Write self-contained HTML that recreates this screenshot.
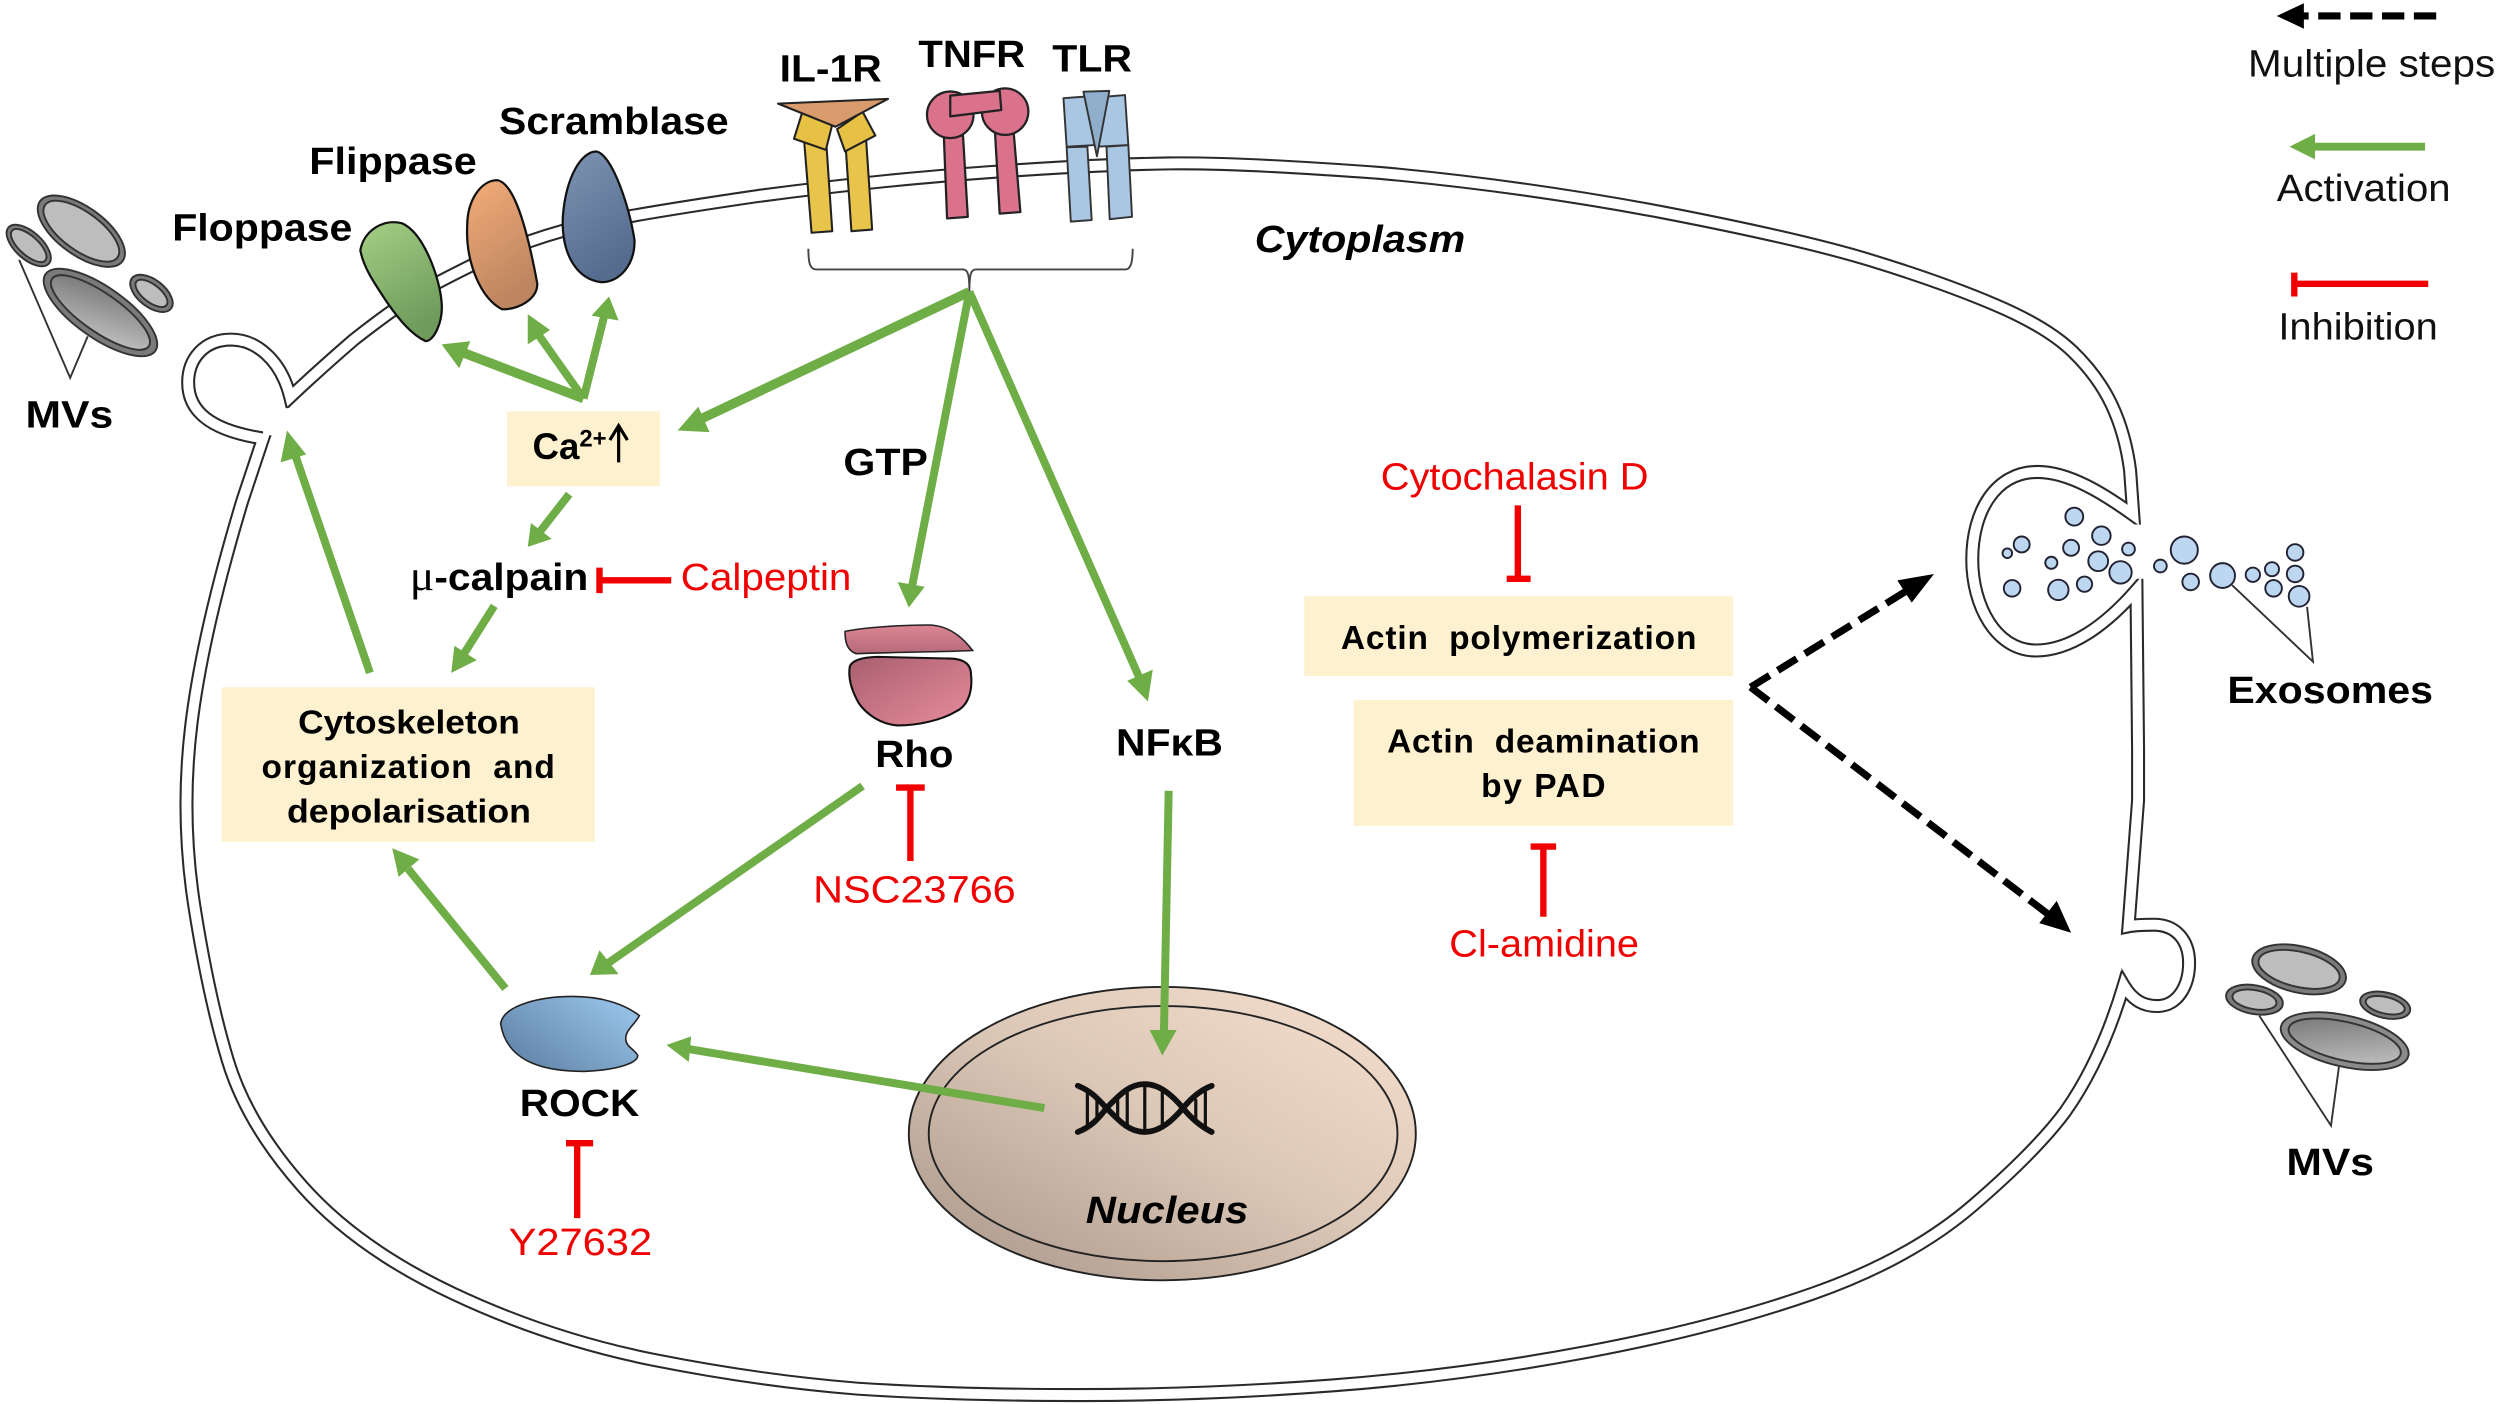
<!DOCTYPE html>
<html><head><meta charset="utf-8"><style>html,body{margin:0;padding:0;background:#fff}svg{display:block}</style></head><body>
<svg xmlns="http://www.w3.org/2000/svg" width="2500" height="1404" viewBox="0 0 1568 880.6" font-family="'Liberation Sans',sans-serif">
<defs>
<linearGradient id="nuc" x1="0.1" y1="0.95" x2="0.9" y2="0.1"><stop offset="0" stop-color="#ad9b8e"/><stop offset="0.55" stop-color="#dcc8b7"/><stop offset="1" stop-color="#f1dac9"/></linearGradient>
<linearGradient id="gr" x1="0" y1="0" x2="0.4" y2="1"><stop offset="0" stop-color="#a3cf85"/><stop offset="1" stop-color="#6f9c5c"/></linearGradient>
<linearGradient id="or" x1="0" y1="0" x2="0.4" y2="1"><stop offset="0" stop-color="#f3ac78"/><stop offset="1" stop-color="#bd8560"/></linearGradient>
<linearGradient id="bl" x1="0" y1="0" x2="0.4" y2="1"><stop offset="0" stop-color="#7e94b4"/><stop offset="1" stop-color="#566c8e"/></linearGradient>
<linearGradient id="mv" x1="0" y1="0" x2="1" y2="1"><stop offset="0" stop-color="#707070"/><stop offset="1" stop-color="#c8c8c8"/></linearGradient>
<linearGradient id="rho" x1="0" y1="0" x2="1" y2="1"><stop offset="0" stop-color="#a85f6e"/><stop offset="1" stop-color="#e88c9c"/></linearGradient>
<linearGradient id="rho2" x1="0" y1="0" x2="0" y2="1"><stop offset="0" stop-color="#dc8595"/><stop offset="1" stop-color="#b56a78"/></linearGradient>
<linearGradient id="rock" x1="0" y1="1" x2="1" y2="0.3"><stop offset="0" stop-color="#5a7c9f"/><stop offset="1" stop-color="#95c0e5"/></linearGradient>
</defs>
<rect width="1568" height="880.6" fill="#fff"/>

<!-- membrane -->
<g fill="none" stroke-linejoin="miter" stroke-miterlimit="20">
<path d="M165,275 L152,314 Q127,397 120,454.5 Q113,512 122,569 Q131,626 143,665.5 Q155,705 189.5,744 Q224,783 284.5,811.5 Q345,840 410.5,853 Q476,866 538,871 Q600,875 677.5,875 Q755,875 835,869 Q915,863 995,848 Q1075,833 1136.5,811.5 Q1198,790 1237.5,756 Q1277,722 1295.5,697 Q1318,665 1332,618 C1338,628 1345,631 1353,631 C1366,631 1373,618 1373,604 C1373,590 1365,580 1351,580 C1345,580 1340,580 1335,581 L1341,502 L1341,470 L1340,370 C1320,393 1298,408 1277,408 C1252,408 1237,380 1237,351 C1237,320 1252,296 1278,296 C1298,296 1320,310 1338,323 L1336,295 Q1333,272 1324.5,254 Q1316,236 1300,220.5 Q1284,205 1251,191 Q1218,177 1174,163.5 Q1130,150 1042,133 Q954,116.5 866,108.5 Q778,102 734,102.5 Q690,103 620,108 Q550,113 475,123 Q400,134 367,141 Q335,149 307,161 Q280,174 262,184 Q245,195 222,213 Q200,232 182,249 C176,225 160,213 145,213 C128,213 118,225 118,240 C118,258 132,270 165,275 Z" stroke="#2a2a2a" stroke-width="8.8"/>
<path d="M165,275 L152,314 Q127,397 120,454.5 Q113,512 122,569 Q131,626 143,665.5 Q155,705 189.5,744 Q224,783 284.5,811.5 Q345,840 410.5,853 Q476,866 538,871 Q600,875 677.5,875 Q755,875 835,869 Q915,863 995,848 Q1075,833 1136.5,811.5 Q1198,790 1237.5,756 Q1277,722 1295.5,697 Q1318,665 1332,618 C1338,628 1345,631 1353,631 C1366,631 1373,618 1373,604 C1373,590 1365,580 1351,580 C1345,580 1340,580 1335,581 L1341,502 L1341,470 L1340,370 C1320,393 1298,408 1277,408 C1252,408 1237,380 1237,351 C1237,320 1252,296 1278,296 C1298,296 1320,310 1338,323 L1336,295 Q1333,272 1324.5,254 Q1316,236 1300,220.5 Q1284,205 1251,191 Q1218,177 1174,163.5 Q1130,150 1042,133 Q954,116.5 866,108.5 Q778,102 734,102.5 Q690,103 620,108 Q550,113 475,123 Q400,134 367,141 Q335,149 307,161 Q280,174 262,184 Q245,195 222,213 Q200,232 182,249 C176,225 160,213 145,213 C128,213 118,225 118,240 C118,258 132,270 165,275 Z" stroke="#fff" stroke-width="6.2"/>
</g>
<!-- openings -->
<rect x="1330" y="329" width="30" height="34" fill="#fff"/>
<rect x="1320" y="587" width="10.5" height="22" fill="#fff"/>
<rect x="165" y="256" width="22" height="17" fill="#fff"/>

<!-- boxes -->
<g fill="#fdf1cf">
<rect x="318" y="258" width="96" height="47"/>
<rect x="139" y="431" width="234" height="97"/>
<rect x="818" y="374" width="269" height="50"/>
<rect x="849" y="439" width="238" height="79"/>
</g>

<!-- flippases -->
<g stroke="#111" stroke-width="1.4">
<path d="M353,136 C355,110 365,95 374,95 C384,97 395,130 398,151 C398,167 388,177 377,177 C362,175 352,160 353,136Z" fill="url(#bl)"/>
<path d="M293,142 C293,125 302,113 312,113 C322,115 330,140 337,178 C337,188 325,194 315,194 C302,188 292,165 293,142Z" fill="url(#or)"/>
<path d="M226,157 C228,145 240,137 252,140 C266,146 276,175 277,190 C278,202 272,214 267,214 C258,210 250,200 243,190 C235,178 228,168 226,157Z" fill="url(#gr)"/>
</g>

<!-- IL-1R -->
<g stroke="#222" stroke-width="1.3" stroke-linejoin="round">
<path d="M504,84 L518,86 L522,145 L509,146Z" fill="#e8c54a"/>
<path d="M530,86 L543,84 L547,144 L534,145Z" fill="#e8c54a"/>
<path d="M503,71 L522,78 L518,94 L498,87Z" fill="#e6c144"/>
<path d="M541,70 L549,85 L530,95 L525,81Z" fill="#e6c144"/>
<path d="M488,65 L557,62 L524,79.5Z" fill="#d99a6c"/>
</g>
<!-- TNFR -->
<g stroke="#222" stroke-width="1.4" fill="#d9728a" stroke-linejoin="round">
<path d="M592,86 L604,85 L607,136 L594,137Z"/>
<path d="M624,82 L635.6,81 L640,133 L627,134Z"/>
<circle cx="596" cy="72" r="14.6"/>
<circle cx="630.4" cy="70" r="14.6"/>
<path d="M596,60 L627,57 L628,69 L596,73Z"/>
</g>
<!-- TLR -->
<g stroke="#333" stroke-width="1.2" fill="#a9c7e3" stroke-linejoin="round">
<path d="M669,92.4 L682,92 L684.7,138 L671.6,139Z"/>
<path d="M694,92 L707.7,91 L710,136 L696,137.5Z"/>
<path d="M667,61.6 L680.5,60.6 L687,91 L669,92Z"/>
<path d="M694,60.6 L705.6,59.6 L707.7,91 L688,92Z"/>
<path d="M679.5,57.5 L695.8,57 L688,98Z" fill="#8faecb"/>
</g>
<!-- bracket -->
<path d="M507,156 C507,165 508,169 512,169 L604,169 C607,169 608,172 608,183 C608,172 609,169 612,169 L706,169 C709,169 710.4,165 710.4,156" fill="none" stroke="#444" stroke-width="1.2"/>

<!-- Left MVs -->
<g stroke="#333" stroke-width="1.2">
<g transform="rotate(36 51 145)"><ellipse cx="51" cy="145" rx="32" ry="15" fill="#7a7a7a"/><ellipse cx="51" cy="145" rx="28" ry="12" fill="#bdbdbd"/></g>
<g transform="rotate(42 18 154)"><ellipse cx="18" cy="154" rx="17" ry="8.5" fill="#7a7a7a"/><ellipse cx="18" cy="154" rx="14" ry="6" fill="#bdbdbd"/></g>
<g transform="rotate(35 63 196)"><ellipse cx="63" cy="196" rx="42" ry="16" fill="#7a7a7a"/><ellipse cx="63" cy="196" rx="37" ry="12" fill="url(#mv)"/></g>
<g transform="rotate(38 95 184)"><ellipse cx="95" cy="184" rx="15.5" ry="8.5" fill="#7a7a7a"/><ellipse cx="95" cy="184" rx="12" ry="5.5" fill="#bdbdbd"/></g>
</g>
<path d="M12,163 L44,237 L55,211" fill="none" stroke="#333" stroke-width="1.2"/>
<!-- Right MVs -->
<g stroke="#333" stroke-width="1.2">
<g transform="rotate(13 1442 608)"><ellipse cx="1442" cy="608" rx="30" ry="14.5" fill="#7a7a7a"/><ellipse cx="1442" cy="608" rx="26" ry="11" fill="#bdbdbd"/></g>
<g transform="rotate(10 1414 627)"><ellipse cx="1414" cy="627" rx="18" ry="9" fill="#7a7a7a"/><ellipse cx="1414" cy="627" rx="14" ry="6" fill="#bdbdbd"/></g>
<g transform="rotate(13 1470.6 653)"><ellipse cx="1470.6" cy="653" rx="41" ry="16" fill="#8a8a8a"/><ellipse cx="1470.6" cy="653" rx="36" ry="12" fill="url(#mv)"/></g>
<g transform="rotate(13 1496 630.5)"><ellipse cx="1496" cy="630.5" rx="16" ry="8" fill="#7a7a7a"/><ellipse cx="1496" cy="630.5" rx="12.5" ry="5.2" fill="#bdbdbd"/></g>
</g>
<path d="M1417,637 L1462,706 L1467,669" fill="none" stroke="#333" stroke-width="1.2"/>

<!-- Exosomes -->
<g fill="#bcd7ef" stroke="#223" stroke-width="1.2">
<circle cx="1301" cy="324" r="5.6"/><circle cx="1268" cy="341.5" r="5"/><circle cx="1259" cy="347" r="3"/><circle cx="1299" cy="343.6" r="5"/><circle cx="1318" cy="336" r="5.8"/><circle cx="1335" cy="344.4" r="4"/><circle cx="1286.6" cy="353" r="3.8"/><circle cx="1316" cy="352" r="6.2"/><circle cx="1330" cy="359" r="7"/><circle cx="1262" cy="369" r="5.2"/><circle cx="1291" cy="370" r="6.4"/><circle cx="1307.4" cy="366.4" r="4.8"/><circle cx="1355" cy="355" r="4"/><circle cx="1370" cy="345" r="8.5"/><circle cx="1374" cy="365" r="5.2"/><circle cx="1394" cy="361" r="7.8"/><circle cx="1413" cy="360.5" r="4.5"/><circle cx="1425" cy="357" r="4.4"/><circle cx="1439.5" cy="346.5" r="5.2"/><circle cx="1439.5" cy="360" r="5.2"/><circle cx="1426" cy="369" r="5.2"/><circle cx="1442" cy="374" r="6.5"/>
</g>
<path d="M1400,367 L1450.7,415 L1447,380.6" fill="none" stroke="#333" stroke-width="1.2"/>

<!-- Nucleus -->
<ellipse cx="729" cy="711" rx="159" ry="92" fill="url(#nuc)" stroke="#222" stroke-width="1.2"/>
<ellipse cx="729.5" cy="711" rx="147" ry="80" fill="none" stroke="#222" stroke-width="1.2"/>
<!-- DNA -->
<g fill="none" stroke="#111" stroke-linecap="round">
<path d="M676,681 C686,685 690,691 694,695 C702,703 708,710 718,710 C728,710 736,702 742,695 C746,690 752,684 760,681" stroke-width="3.6"/>
<path d="M676,710 C686,706 690,700 694,695 C702,687 708,680 718,680 C728,680 736,688 742,695 C746,700 752,706 760,710" stroke-width="3.6"/>
<path d="M682,685 V706 M688,690 V702 M701,688 V702 M707,684 V706 M718,681 V709 M729,684 V706 M750,690 V702 M756,685 V706" stroke-width="2"/>
</g>

<!-- Rho -->
<path d="M530,396 C545,393 570,392 582,392 C595,392 604,400 610,408 C590,409 560,409 537,410 C531,408 530,402 530,396Z" fill="url(#rho2)" stroke="#222" stroke-width="1"/>
<path d="M533,418 C535,413 545,412 551,412 L594,413 C604,413 609,416 609,423 C610,432 608,442 600,446 C590,452 575,455 563,455 C550,454 540,445 537,438 C533,430 532,424 533,418Z" fill="url(#rho)" stroke="#111" stroke-width="1.3"/>
<!-- ROCK -->
<path d="M314,642 C316,630 340,625 359,625 C378,625 392,630 401,637 C398,643 392,646 392.5,652 C393,657 398,658 400,662 C400,666 390,671 366,672 C345,672 318,668 314,642Z" fill="url(#rock)" stroke="#222" stroke-width="1"/>

<!-- Green arrows -->
<g stroke="#6fad47" stroke-width="5" fill="none">
<path d="M608,183 L437,264" stroke-width="6"/><path d="M608,183 L572,368"/><path d="M608,183 L715,426"/>
<path d="M366,250 L290,221" stroke-width="6"/><path d="M366,250 L337,209"/><path d="M366,250 L379,198"/>
<path d="M357,310 L339,333"/><path d="M310,380 L291,410"/>
<path d="M232,422 L185,285"/><path d="M317,620 L256,545"/>
<path d="M541,493 L380,605"/><path d="M655,695 L432,658"/>
<path d="M733,496 L730,648"/>
<path d="M1521,92 L1450,92"/>
</g>
<g fill="#6fad47">
<path d="M425,270 L438,255 L445,271Z"/>
<path d="M570,381 L563,365 L580,368Z"/>
<path d="M720,440 L707,427 L723,420Z"/>
<path d="M277,216 L295,214 L288,231Z"/>
<path d="M331,197 L345,207 L331,216Z"/>
<path d="M382,186 L388,201 L371,198Z"/>
<path d="M331,343 L333,328 L346,338Z"/>
<path d="M283,422 L285,405 L299,414Z"/>
<path d="M180,270 L192,285 L176,290Z"/>
<path d="M246,532 L263,539 L250,550Z"/>
<path d="M370,611.5 L376,596 L388,611Z"/>
<path d="M418,655.4 L433.5,650 L432,666Z"/>
<path d="M729,662 L721,646 L738,646Z"/>
<path d="M1436,92 L1452,84 L1452,100Z"/>
</g>

<!-- Red inhibitions -->
<g stroke="#f00000" stroke-width="4" fill="none">
<path d="M421,364 H376 M376,356 V372"/>
<path d="M571,540 V494 M562,494 H580"/>
<path d="M362,764 V717 M355,717 H372"/>
<path d="M952,317 V363 M945,363 H960"/>
<path d="M968,575 V531 M960,531 H976"/>
<path d="M1523,178 H1439 M1439,171 V186"/>
</g>

<!-- Black dashed -->
<g stroke="#000" stroke-width="4.5" fill="none" stroke-dasharray="14 6">
<path d="M1098,431 L1200,368"/>
<path d="M1098,431 L1288,576"/>
<path d="M1528,10 L1442,10"/>
</g>
<g fill="#000">
<path d="M1213,360 L1199,378 L1190,364Z"/>
<path d="M1299,585 L1279,579 L1290,565Z"/>
<path d="M1428,10 L1445,2 L1445,18Z"/>
</g>

<!-- Text -->
<g font-weight="bold" fill="#000" font-size="24">
<text x="489" y="51" textLength="64" lengthAdjust="spacingAndGlyphs">IL-1R</text>
<text x="576" y="42" textLength="67" lengthAdjust="spacingAndGlyphs">TNFR</text>
<text x="660" y="45" textLength="50" lengthAdjust="spacingAndGlyphs">TLR</text>
<text x="313" y="84" textLength="144" lengthAdjust="spacingAndGlyphs">Scramblase</text>
<text x="194" y="109" textLength="105" lengthAdjust="spacingAndGlyphs">Flippase</text>
<text x="108" y="151" textLength="113" lengthAdjust="spacingAndGlyphs">Floppase</text>
<text x="16" y="268" textLength="55" lengthAdjust="spacingAndGlyphs">MVs</text>
<text x="787" y="158" font-style="italic" textLength="132" lengthAdjust="spacingAndGlyphs">Cytoplasm</text>
<text x="529" y="298" textLength="53" lengthAdjust="spacingAndGlyphs">GTP</text>
<text x="257" y="370" textLength="112" lengthAdjust="spacingAndGlyphs"><tspan font-family="'Liberation Serif',serif" font-weight="normal" font-size="27">μ</tspan>-calpain</text>
<text x="549" y="481" textLength="49" lengthAdjust="spacingAndGlyphs">Rho</text>
<text x="700" y="474" textLength="67" lengthAdjust="spacingAndGlyphs">NFκB</text>
<text x="326" y="700" textLength="75" lengthAdjust="spacingAndGlyphs">ROCK</text>
<text x="681" y="767" font-style="italic" textLength="102" lengthAdjust="spacingAndGlyphs">Nucleus</text>
<text x="1397" y="441" textLength="129" lengthAdjust="spacingAndGlyphs">Exosomes</text>
<text x="1434" y="737" textLength="55" lengthAdjust="spacingAndGlyphs">MVs</text>
</g>
<g font-weight="bold" fill="#000" font-size="21">
<text x="334" y="288" font-size="23">Ca<tspan font-size="15" dy="-8">2+</tspan></text>
<text x="187" y="460" textLength="139" lengthAdjust="spacingAndGlyphs">Cytoskeleton</text>
<text x="164" y="488" textLength="184" lengthAdjust="spacing" style="white-space:pre">organization  and</text>
<text x="180" y="516" textLength="153" lengthAdjust="spacingAndGlyphs">depolarisation</text>
<text x="841" y="407" textLength="223" lengthAdjust="spacing" style="white-space:pre">Actin  polymerization</text>
<text x="870" y="472" textLength="196" lengthAdjust="spacing" style="white-space:pre">Actin  deamination</text>
<text x="929" y="500" textLength="78" lengthAdjust="spacing">by PAD</text>
</g>
<path d="M388,290 V268 M382.5,276 L388,267 L393.5,276" fill="none" stroke="#000" stroke-width="2"/>
<g fill="#f00000" font-size="24">
<text x="427" y="370" textLength="107" lengthAdjust="spacingAndGlyphs">Calpeptin</text>
<text x="510" y="566" textLength="127" lengthAdjust="spacingAndGlyphs">NSC23766</text>
<text x="319" y="787" textLength="90" lengthAdjust="spacingAndGlyphs">Y27632</text>
<text x="866" y="307" textLength="168" lengthAdjust="spacingAndGlyphs">Cytochalasin D</text>
<text x="909" y="600" textLength="119" lengthAdjust="spacingAndGlyphs">Cl-amidine</text>
</g>
<g fill="#111" font-size="24">
<text x="1410" y="48" textLength="155" lengthAdjust="spacingAndGlyphs">Multiple steps</text>
<text x="1428" y="126" textLength="109" lengthAdjust="spacingAndGlyphs">Activation</text>
<text x="1429" y="213" textLength="100" lengthAdjust="spacingAndGlyphs">Inhibition</text>
</g>
</svg>
</body></html>
